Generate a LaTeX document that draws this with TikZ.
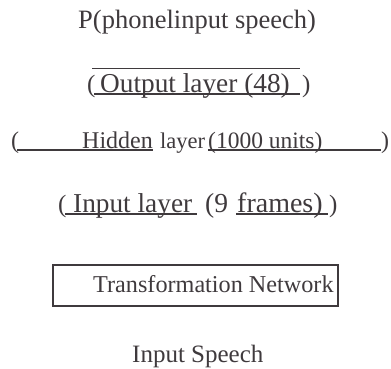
\documentclass[tikz,border=0pt]{standalone}
\usepackage{fontspec}
\setmainfont{Liberation Serif}
\definecolor{ink}{HTML}{3F3A3D}
\newcommand{\fs}[1]{\fontsize{#1}{#1}\selectfont}
\begin{document}
\begin{tikzpicture}[x=1pt,y=-1pt,
  txt/.style={inner sep=0pt,anchor=base west,text=ink},
  uline/.style={draw=ink,line width=1.5pt},
  oline/.style={draw=ink,line width=0.9pt},
  frame/.style={draw=ink,line width=2pt}]
\useasboundingbox (0,0) rectangle (391,368);
% header
\node[txt,font=\fs{26.5}] (head) at (78,28) {P(phonelinput speech)};
% output layer
\draw[oline] (92,68) coordinate (ovl) -- (300,68) coordinate (ovr);
\node[txt,font=\fs{25}] (olp) at (87,92) {(};
\node[txt,font=\fs{27.3}] (out) at (100,92) {Output layer (48)};
\node[txt,font=\fs{25}] (orp) at (302,92) {)};
\draw[uline] (94,94) coordinate (oul) -- (300,94) coordinate (our);
% hidden layer
\node[txt,font=\fs{24}] (hlp) at (11,148) {(};
\draw[uline] (17,150) coordinate (hu1) -- (153,150) coordinate (hu2);
\node[txt,font=\fs{24}] (hid) at (82,148) {Hidden};
\node[txt,font=\fs{22.5}] (lay) at (160,148) {layer};
\node[txt,font=\fs{23.5}] (units) at (208,148) {(1000 units)};
\draw[uline] (208,150) coordinate (hu3) -- (381,150) coordinate (hu4);
\node[txt,font=\fs{24}] (hrp) at (381,148) {)};
% input layer
\node[txt,font=\fs{25}] (ilp) at (58,212) {(};
\node[txt,font=\fs{27.3}] (inl) at (73,212) {Input layer};
\draw[uline] (65,214) coordinate (iu1) -- (197,214) coordinate (iu2);
\node[txt,font=\fs{27.5}] (nine) at (205,212) {(9};
\node[txt,font=\fs{28}] (frm) at (237,212) {frames)};
\draw[uline] (236,214) coordinate (iu3) -- (328,214) coordinate (iu4);
\node[txt,font=\fs{25}] (irp) at (329,212) {)};
% transformation network
\draw[frame] (53,265) coordinate (bx1) rectangle (338,306) coordinate (bx2);
\node[txt,font=\fs{24.2}] (tn) at (93,292) {Transformation Network};
% input speech
\node[txt,font=\fs{25}] (is) at (132,362) {Input Speech};
\end{tikzpicture}
\end{document}
